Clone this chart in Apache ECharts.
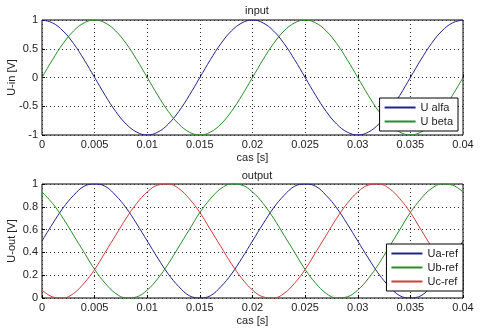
<!DOCTYPE html>
<html>
<head>
<meta charset="utf-8">
<script src="https://cdn.jsdelivr.net/npm/echarts@6/dist/echarts.min.js"></script>
<style>
html,body{margin:0;padding:0;background:#fff;}
#main{width:480px;height:332px;}
</style>
</head>
<body>
<div id="main"></div>
<script>
// time axis, step 0.001 s
var time = [0,0.001,0.002,0.003,0.004,0.005,0.006,0.007,0.008,0.009,0.010,0.011,0.012,0.013,0.014,0.015,0.016,0.017,0.018,0.019,
            0.020,0.021,0.022,0.023,0.024,0.025,0.026,0.027,0.028,0.029,0.030,0.031,0.032,0.033,0.034,0.035,0.036,0.037,0.038,0.039,0.040];

// input plot
var uAlfa = [1,0.95,0.81,0.59,0.31,0,-0.31,-0.59,-0.81,-0.95,-1,-0.95,-0.81,-0.59,-0.31,0,0.31,0.59,0.81,0.95,
             1,0.95,0.81,0.59,0.31,0,-0.31,-0.59,-0.81,-0.95,-1,-0.95,-0.81,-0.59,-0.31,0,0.31,0.59,0.81,0.95,1];
var uBeta = [0,0.31,0.59,0.81,0.95,1,0.95,0.81,0.59,0.31,0,-0.31,-0.59,-0.81,-0.95,-1,-0.95,-0.81,-0.59,-0.31,
             0,0.31,0.59,0.81,0.95,1,0.95,0.81,0.59,0.31,0,-0.31,-0.59,-0.81,-0.95,-1,-0.95,-0.81,-0.59,-0.31,0];

// output plot
var uaRef = [0.50,0.65,0.79,0.90,0.98,1.00,0.98,0.90,0.79,0.65,0.50,0.35,0.21,0.10,0.02,0.00,0.02,0.10,0.21,0.35,
             0.50,0.65,0.79,0.90,0.98,1.00,0.98,0.90,0.79,0.65,0.50,0.35,0.21,0.10,0.02,0.00,0.02,0.10,0.21,0.35,0.50];
var ubRef = [0.93,0.83,0.70,0.55,0.40,0.25,0.13,0.04,0.00,0.01,0.07,0.17,0.30,0.45,0.60,0.75,0.87,0.96,1.00,0.99,
             0.93,0.83,0.70,0.55,0.40,0.25,0.13,0.04,0.00,0.01,0.07,0.17,0.30,0.45,0.60,0.75,0.87,0.96,1.00,0.99,0.93];
var ucRef = [0.07,0.01,0.00,0.04,0.13,0.25,0.40,0.55,0.70,0.83,0.93,0.99,1.00,0.96,0.87,0.75,0.60,0.45,0.30,0.17,
             0.07,0.01,0.00,0.04,0.13,0.25,0.40,0.55,0.70,0.83,0.93,0.99,1.00,0.96,0.87,0.75,0.60,0.45,0.30,0.17,0.07];

var FONT = 'Liberation Sans';
var BLUE = '#22228c', GREEN = '#2a8a2a', RED = '#d23c3c';

function pairs(ys){
    var out = [];
    for(var i = 0; i < time.length; i++){
        out.push([time[i], ys[i]]);
    }
    return out;
}

function xAxisCfg(idx){
    return {
        type: 'value', gridIndex: idx, min: 0, max: 0.04, interval: 0.005,
        name: 'cas [s]', nameLocation: 'middle', nameGap: 17,
        nameTextStyle: {fontFamily: FONT, fontSize: 11, color: '#222'},
        axisLine: {show: false},
        axisTick: {inside: true, length: 3, lineStyle: {color: '#000'}},
        axisLabel: {fontFamily: FONT, fontSize: 11, color: '#222', margin: 4,
            formatter: function(v){ return String(+v.toFixed(3)); }},
        splitLine: {show: true, lineStyle: {type: [1, 3], color: '#333', width: 1}}
    };
}

function yAxisCfg(idx, name, min, max, step){
    return {
        type: 'value', gridIndex: idx, min: min, max: max, interval: step,
        name: name, nameLocation: 'middle', nameGap: 25, nameMoveOverlap: false,
        nameTextStyle: {fontFamily: FONT, fontSize: 11, color: '#222'},
        axisLine: {show: false},
        axisTick: {inside: true, length: 3, lineStyle: {color: '#000'}},
        axisLabel: {fontFamily: FONT, fontSize: 11, color: '#222', margin: 4,
            formatter: function(v){ return String(+v.toFixed(2)); }},
        splitLine: {show: true, lineStyle: {type: [1, 3], color: '#333', width: 1}}
    };
}

function line(name, ys, color, idx){
    return {
        name: name, type: 'line', xAxisIndex: idx, yAxisIndex: idx,
        data: pairs(ys), smooth: 0.4, symbol: 'none',
        lineStyle: {color: color, width: 1}, itemStyle: {color: color}
    };
}

function legendItem(name, color){
    return {name: name, icon: 'rect', itemStyle: {color: color, borderWidth: 0}};
}

var legendBase = {
    orient: 'vertical', backgroundColor: '#fff', borderColor: '#000', borderWidth: 1,
    padding: [4, 5, 4, 5], itemGap: 3, itemWidth: 31, itemHeight: 2,
    textStyle: {fontFamily: FONT, fontSize: 11, color: '#222'}
};

var option = {
    animation: false,
    backgroundColor: '#fff',
    title: [
        {text: 'input', left: 252, top: 0, textAlign: 'center',
         textStyle: {fontFamily: FONT, fontSize: 11, fontWeight: 'normal', color: '#222'}},
        {text: 'output', left: 252, top: 165, textAlign: 'center',
         textStyle: {fontFamily: FONT, fontSize: 11, fontWeight: 'normal', color: '#222'}}
    ],
    grid: [
        {left: 42, right: 17, top: 20, height: 115, outerBoundsMode: 'none', containLabel: false,
         show: true, borderColor: '#000', borderWidth: 1, backgroundColor: '#fff'},
        {left: 42, right: 17, top: 184, height: 114, outerBoundsMode: 'none', containLabel: false,
         show: true, borderColor: '#000', borderWidth: 1, backgroundColor: '#fff'}
    ],
    legend: [
        Object.assign({}, legendBase, {
            data: [legendItem('U alfa', BLUE), legendItem('U beta', GREEN)],
            right: 22, top: 98}),
        Object.assign({}, legendBase, {
            data: [legendItem('Ua-ref', BLUE), legendItem('Ub-ref', GREEN), legendItem('Uc-ref', RED)],
            right: 17, top: 244})
    ],
    xAxis: [xAxisCfg(0), xAxisCfg(1)],
    yAxis: [yAxisCfg(0, 'U-in [V]', -1, 1, 0.5), yAxisCfg(1, 'U-out [V]', 0, 1, 0.2)],
    series: [
        line('U alfa', uAlfa, BLUE, 0),
        line('U beta', uBeta, GREEN, 0),
        line('Ua-ref', uaRef, BLUE, 1),
        line('Ub-ref', ubRef, GREEN, 1),
        line('Uc-ref', ucRef, RED, 1)
    ]
};

var myChart = echarts.init(document.getElementById('main'));
myChart.setOption(option);
</script>
</body>
</html>
